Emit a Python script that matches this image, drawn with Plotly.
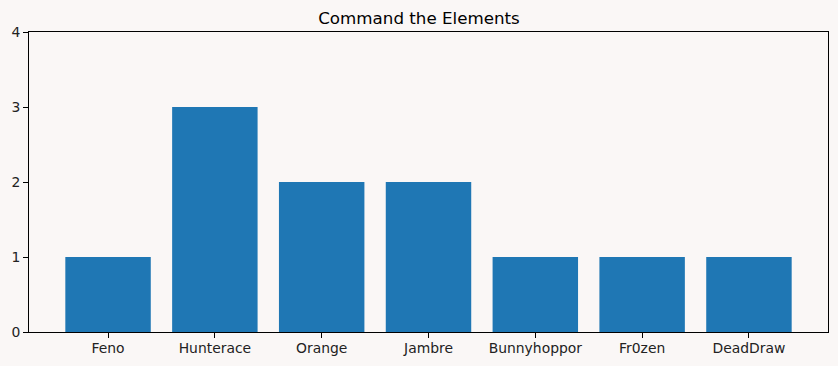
import plotly.graph_objects as go

players = ["Feno", "Hunterace", "Orange", "Jambre", "Bunnyhoppor", "Fr0zen", "DeadDraw"]
counts = [1, 3, 2, 2, 1, 1, 1]
y_ticks = [0, 1, 2, 3, 4]

bg = "#faf7f6"
fig = go.Figure(go.Bar(x=players, y=counts, width=0.8, marker=dict(color="#1f77b4", line=dict(width=0)),
                       hoverinfo="skip"))

W, H = 838, 366
fig.update_layout(
    width=W, height=H,
    paper_bgcolor=bg, plot_bgcolor=bg,
    margin=dict(l=29, r=10, t=32, b=34, autoexpand=False),
    font=dict(family="DejaVu Sans", size=13.9, color="#222"),
    title=dict(text="Command the Elements", x=0.5, xanchor="center", y=1 - 18/H, yanchor="middle",
               font=dict(size=16.7, color="#000")),
    showlegend=False,
)
fig.update_xaxes(type="category", range=[-0.74, 6.74], showline=True, linecolor="black", linewidth=1,
                 mirror=True, ticks="outside", ticklen=5, tickcolor="black", showgrid=False,
                 automargin=False, ticklabelstandoff=-2, tickfont=dict(size=13.9, color="#222"))
fig.update_yaxes(range=[0, 4], tickvals=y_ticks, showline=True, linecolor="black", linewidth=1,
                 mirror=True, ticks="outside", ticklen=5, tickcolor="black", showgrid=False,
                 automargin=False, zeroline=False, tickfont=dict(size=13.9, color="#222"))

fig.write_html("out.html", config={"displayModeBar": False},
               post_script="document.body.style.margin='0';document.body.style.background='%s';" % bg)
